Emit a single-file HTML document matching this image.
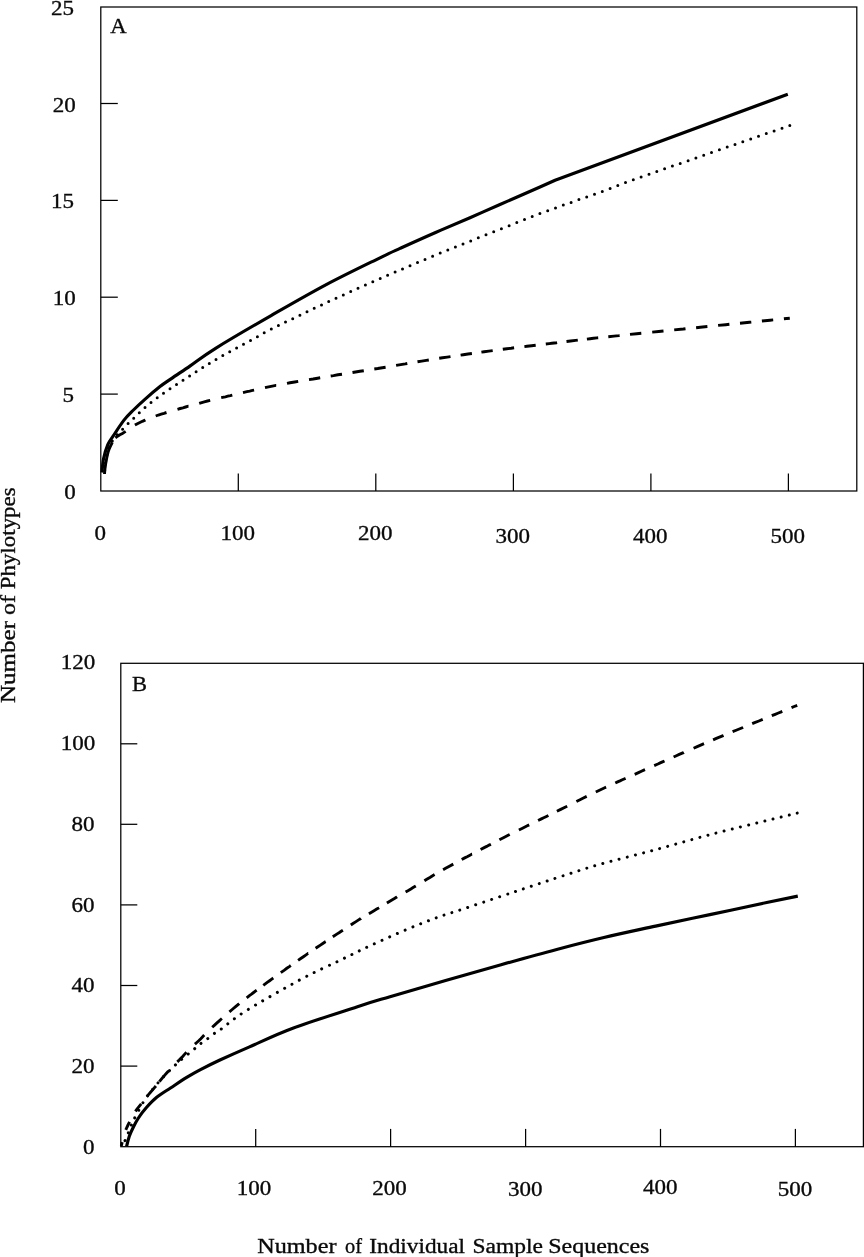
<!DOCTYPE html>
<html lang="en"><head><meta charset="utf-8"><title>Rarefaction curves</title>
<style>
html,body{margin:0;padding:0;background:#fff;}
body{width:864px;height:1257px;overflow:hidden;}
svg{display:block;}
text{font-family:"Liberation Serif","DejaVu Serif",serif;font-size:21.6px;fill:#0a0a0a;stroke:#0a0a0a;stroke-width:0.35px;}
.ax{stroke:#000;stroke-width:1.25;fill:none;}
.s{stroke:#000;stroke-width:3.15;fill:none;stroke-linejoin:round;}
.d{stroke:#000;stroke-width:3.1;fill:none;stroke-dasharray:11.3 10.5;}
.dd{stroke:#000;stroke-width:2.9;fill:none;}
.pp{stroke:#000;stroke-width:3.0;fill:none;stroke-linecap:round;}
.p{stroke:#000;stroke-width:3.0;fill:none;stroke-dasharray:0.01 8.3;stroke-linecap:round;}
</style></head><body>
<svg width="864" height="1257" viewBox="0 0 864 1257">
<rect width="864" height="1257" fill="#fff"/>

<rect class="ax" x="100.8" y="7.0" width="756.0" height="484.0"/>
<line class="ax" x1="100.8" y1="394.1" x2="117.8" y2="394.1"/>
<line class="ax" x1="100.8" y1="297.2" x2="117.8" y2="297.2"/>
<line class="ax" x1="100.8" y1="200.4" x2="117.8" y2="200.4"/>
<line class="ax" x1="100.8" y1="103.5" x2="117.8" y2="103.5"/>
<line class="ax" x1="238.3" y1="491.0" x2="238.3" y2="473.5"/>
<line class="ax" x1="375.8" y1="491.0" x2="375.8" y2="473.5"/>
<line class="ax" x1="513.4" y1="491.0" x2="513.4" y2="473.5"/>
<line class="ax" x1="650.9" y1="491.0" x2="650.9" y2="473.5"/>
<line class="ax" x1="788.4" y1="491.0" x2="788.4" y2="473.5"/>
<text x="75.8" y="499.0" text-anchor="end" textLength="11.5" lengthAdjust="spacingAndGlyphs">0</text>
<text x="73.9" y="402.1" text-anchor="end" textLength="11.5" lengthAdjust="spacingAndGlyphs">5</text>
<text x="75.8" y="305.2" text-anchor="end" textLength="23.0" lengthAdjust="spacingAndGlyphs">10</text>
<text x="73.9" y="208.4" text-anchor="end" textLength="23.0" lengthAdjust="spacingAndGlyphs">15</text>
<text x="75.8" y="111.5" text-anchor="end" textLength="23.0" lengthAdjust="spacingAndGlyphs">20</text>
<text x="73.9" y="14.6" text-anchor="end" textLength="23.0" lengthAdjust="spacingAndGlyphs">25</text>
<text x="100.2" y="539.8" text-anchor="middle" textLength="11.5" lengthAdjust="spacingAndGlyphs">0</text>
<text x="237.7" y="539.8" text-anchor="middle" textLength="34.5" lengthAdjust="spacingAndGlyphs">100</text>
<text x="375.2" y="539.8" text-anchor="middle" textLength="34.5" lengthAdjust="spacingAndGlyphs">200</text>
<text x="512.8" y="542.6" text-anchor="middle" textLength="34.5" lengthAdjust="spacingAndGlyphs">300</text>
<text x="650.3" y="542.6" text-anchor="middle" textLength="34.5" lengthAdjust="spacingAndGlyphs">400</text>
<text x="787.8" y="542.6" text-anchor="middle" textLength="34.5" lengthAdjust="spacingAndGlyphs">500</text>
<text x="110.3" y="33.3" textLength="16.4" lengthAdjust="spacingAndGlyphs">A</text>
<path class="dd" d="M104.5 474.0 L104.7 471.4 L105.0 468.6 L105.4 465.9 L105.8 463.1 L106.3 460.4 L106.8 457.6 L107.4 454.9 L108.1 452.1 L108.9 449.7 L110.0 447.2 L111.2 444.6 L112.3 442.3 L112.4 442.2 M115.4 437.8 L117.6 436.2 L119.9 434.8 L122.4 433.5 L124.9 431.9 L125.7 431.4 M134.9 425.1 L137.4 423.7 L139.9 422.5 L142.4 421.3 L145.0 420.2 L145.4 420.0 M155.7 416.0 L158.4 415.0 L161.2 414.1 L164.0 413.3 L166.5 412.5 M177.5 409.3 L180.2 408.5 L182.9 407.8 L185.6 407.0 L188.3 406.2 L188.5 406.2 M199.2 403.4 L201.7 402.6 L204.3 401.8 L207.5 401.0 L210.2 400.4 M221.2 397.7 L225.4 396.8 L227.8 396.2 L230.4 395.6 L232.3 395.1 M243.0 392.6 L246.9 391.7 L249.7 391.1 L252.5 390.4 L254.1 390.1 M265.0 387.7 L268.6 386.9 L271.1 386.4 L275.9 385.4 L276.2 385.4 M287.0 383.4 L290.0 382.8 L294.7 382.0 L298.2 381.4 M309.0 379.6 L313.1 379.0 L317.6 378.2 L320.2 377.8 M330.7 376.0 L333.5 375.6 L337.9 374.8 L342.0 374.2 M352.5 372.5 L355.5 372.0 L359.9 371.3 L363.8 370.7 M374.3 369.0 L377.7 368.5 L382.3 367.7 L385.6 367.2 M396.1 365.4 L400.7 364.6 L405.3 363.9 L407.3 363.5 M417.5 361.8 L421.7 361.1 L426.3 360.4 L428.8 360.0 M439.2 358.3 L442.5 357.8 L447.2 357.1 L450.5 356.6 M460.6 355.1 L463.3 354.7 L468.0 354.0 L471.9 353.5 M481.4 352.1 L484.2 351.7 L488.8 351.1 L492.7 350.6 M502.8 349.3 L506.8 348.7 L511.2 348.2 L514.1 347.8 M524.4 346.6 L526.9 346.3 L531.6 345.7 L535.7 345.2 M545.8 344.0 L549.3 343.6 L551.8 343.3 L556.6 342.7 L557.1 342.6 M566.5 341.5 L570.6 341.0 L575.6 340.4 L577.8 340.1 M586.9 339.1 L590.1 338.7 L593.5 338.3 L597.1 337.9 L598.2 337.8 M608.3 336.7 L614.0 336.1 L618.9 335.6 L619.6 335.5 M630.0 334.4 L636.7 333.7 L641.3 333.3 M652.2 332.1 L658.7 331.5 L663.5 331.0 M674.2 329.9 L683.3 329.0 L685.5 328.7 M696.1 327.7 L700.3 327.2 L707.4 326.5 M718.1 325.4 L725.7 324.7 L729.4 324.3 M740.0 323.2 L749.5 322.3 L751.3 322.1 M761.9 321.0 L770.1 320.2 L773.2 319.9 M783.9 318.8 L789.8 318.2"/>
<path class="pp" d="M789.8 125.5h.01M782.0 128.2h.01M774.1 130.9h.01M766.3 133.6h.01M758.5 136.3h.01M750.7 139.0h.01M742.8 141.7h.01M735.0 144.4h.01M727.2 147.1h.01M719.4 149.8h.01M711.5 152.6h.01M703.7 155.3h.01M695.9 158.0h.01M688.1 160.7h.01M680.2 163.4h.01M672.4 166.1h.01M664.6 168.8h.01M656.8 171.5h.01M649.0 174.3h.01M641.1 177.0h.01M633.3 179.8h.01M625.5 182.5h.01M617.8 185.4h.01M610.1 188.5h.01M602.3 191.4h.01M594.5 194.2h.01M586.7 196.9h.01M578.9 199.6h.01M571.1 202.4h.01M563.3 205.1h.01M555.5 207.9h.01M547.7 210.7h.01M539.9 213.6h.01M532.2 216.6h.01M524.5 219.6h.01M516.8 222.6h.01M509.1 225.7h.01M501.4 228.7h.01M493.7 231.8h.01M486.0 234.8h.01M478.3 237.8h.01M470.7 240.9h.01M463.0 243.9h.01M455.4 247.0h.01M447.8 250.0h.01M440.2 253.1h.01M432.6 256.2h.01M425.0 259.4h.01M417.5 262.5h.01M410.0 265.7h.01M402.5 268.9h.01M395.1 272.1h.01M387.6 275.3h.01M380.2 278.5h.01M372.8 281.8h.01M365.4 285.0h.01M358.0 288.3h.01M350.7 291.6h.01M343.3 294.9h.01M336.0 298.2h.01M328.7 301.6h.01M321.5 304.9h.01M314.2 308.3h.01M307.0 311.8h.01M299.9 315.2h.01M292.7 318.7h.01M285.5 322.1h.01M278.4 325.6h.01M271.3 329.1h.01M264.2 332.7h.01M257.4 336.7h.01M250.5 340.5h.01M243.5 344.2h.01M236.6 347.9h.01M229.7 351.7h.01M222.8 355.5h.01M216.0 359.4h.01M209.3 363.4h.01M202.7 367.5h.01M196.1 371.7h.01M189.6 375.9h.01M183.0 380.2h.01M176.5 384.4h.01M170.0 388.8h.01M163.5 393.2h.01M157.2 397.7h.01M151.0 402.4h.01M145.0 407.4h.01M139.3 412.7h.01M133.7 418.2h.01M128.1 423.6h.01M122.6 429.2h.01M117.3 434.8h.01M112.3 440.9h.01M108.8 447.8h.01M106.8 455.3h.01M105.5 463.0h.01M104.7 470.8h.01"/>
<path class="s" d="M101.9 472.5 C102.2 470.2 102.6 463.2 103.6 458.6 C104.6 454.0 106.2 448.5 107.8 444.7 C109.4 440.9 110.7 439.8 113.4 435.7 C116.1 431.6 120.5 424.7 123.8 420.4 C127.1 416.1 130.0 413.5 133.5 410.0 C137.0 406.5 140.2 403.5 144.6 399.6 C149.0 395.7 155.6 390.1 160.0 386.6 C164.4 383.2 166.0 382.3 171.0 378.9 C176.0 375.4 182.8 371.0 190.2 365.9 C197.6 360.8 202.1 356.7 215.6 348.3 C229.1 339.9 252.6 326.2 271.1 315.6 C289.6 305.0 308.6 294.0 326.7 284.4 C344.8 274.8 367.8 263.8 380.0 257.8 C392.2 251.8 390.7 252.6 400.0 248.4 C409.3 244.2 423.9 237.6 435.6 232.5 C447.3 227.4 459.3 222.4 470.0 217.7 C480.7 213.0 488.3 209.6 500.0 204.5 C511.7 199.4 530.8 191.1 540.0 187.0 C549.2 182.9 552.6 181.3 555.1 180.2 L787.8 94.2"/>
<rect class="ax" x="120.8" y="663.3" width="742.6" height="483.4"/>
<line class="ax" x1="120.8" y1="1066.1" x2="137.3" y2="1066.1"/>
<line class="ax" x1="120.8" y1="985.5" x2="137.3" y2="985.5"/>
<line class="ax" x1="120.8" y1="904.9" x2="137.3" y2="904.9"/>
<line class="ax" x1="120.8" y1="824.3" x2="137.3" y2="824.3"/>
<line class="ax" x1="120.8" y1="743.8" x2="137.3" y2="743.8"/>
<line class="ax" x1="255.7" y1="1146.7" x2="255.7" y2="1128.9"/>
<line class="ax" x1="390.6" y1="1146.7" x2="390.6" y2="1128.9"/>
<line class="ax" x1="525.6" y1="1146.7" x2="525.6" y2="1128.9"/>
<line class="ax" x1="660.5" y1="1146.7" x2="660.5" y2="1128.9"/>
<line class="ax" x1="795.4" y1="1146.7" x2="795.4" y2="1128.9"/>
<text x="94.4" y="1153.6" text-anchor="end" textLength="11.5" lengthAdjust="spacingAndGlyphs">0</text>
<text x="94.4" y="1073.0" text-anchor="end" textLength="23.0" lengthAdjust="spacingAndGlyphs">20</text>
<text x="94.4" y="991.6" text-anchor="end" textLength="23.0" lengthAdjust="spacingAndGlyphs">40</text>
<text x="94.4" y="911.5" text-anchor="end" textLength="23.0" lengthAdjust="spacingAndGlyphs">60</text>
<text x="94.4" y="831.2" text-anchor="end" textLength="23.0" lengthAdjust="spacingAndGlyphs">80</text>
<text x="95.2" y="749.9" text-anchor="end" textLength="34.5" lengthAdjust="spacingAndGlyphs">100</text>
<text x="95.2" y="669.3" text-anchor="end" textLength="34.5" lengthAdjust="spacingAndGlyphs">120</text>
<text x="120.0" y="1195.3" text-anchor="middle" textLength="11.5" lengthAdjust="spacingAndGlyphs">0</text>
<text x="254.1" y="1195.3" text-anchor="middle" textLength="34.5" lengthAdjust="spacingAndGlyphs">100</text>
<text x="389.6" y="1195.3" text-anchor="middle" textLength="34.5" lengthAdjust="spacingAndGlyphs">200</text>
<text x="525.3" y="1195.7" text-anchor="middle" textLength="34.5" lengthAdjust="spacingAndGlyphs">300</text>
<text x="660.2" y="1194.0" text-anchor="middle" textLength="34.5" lengthAdjust="spacingAndGlyphs">400</text>
<text x="795.1" y="1196.2" text-anchor="middle" textLength="34.5" lengthAdjust="spacingAndGlyphs">500</text>
<text x="131.9" y="691.2" textLength="15" lengthAdjust="spacingAndGlyphs">B</text>
<path class="dd" d="M121.3 1146.0 L121.9 1143.4 L122.2 1142.1 M125.8 1129.9 L126.8 1127.5 L128.0 1125.0 L129.2 1122.6 L129.6 1121.8 M135.4 1111.4 L137.0 1109.1 L138.6 1107.1 L140.2 1105.1 L141.2 1103.9 M146.8 1096.6 L148.7 1094.4 L150.5 1092.3 L152.4 1090.1 L154.3 1087.9 L155.9 1086.0 M159.4 1081.7 L161.2 1079.4 L163.0 1077.2 L164.8 1075.1 L166.7 1073.0 L168.5 1071.0 M177.3 1061.9 L179.2 1060.1 L180.9 1058.3 L182.7 1056.4 L184.5 1054.4 L186.3 1052.4 L186.5 1052.2 M194.9 1044.2 L196.8 1042.5 L199.0 1040.5 L200.8 1038.7 L202.9 1036.5 L204.2 1035.1 M212.2 1027.3 L214.6 1025.1 L216.7 1023.2 L219.0 1021.1 L221.3 1019.0 L221.9 1018.5 M229.4 1011.9 L232.2 1009.5 L235.3 1006.9 L238.6 1004.2 L239.2 1003.6 M246.7 997.8 L249.4 995.6 L251.5 994.1 L253.6 992.5 L255.7 990.9 L256.7 990.2 M263.3 985.3 L267.2 982.4 L269.6 980.7 L272.1 978.9 L273.3 978.0 M280.8 972.6 L284.4 970.1 L286.8 968.3 L289.3 966.6 L290.8 965.5 M298.1 960.4 L301.1 958.3 L303.4 956.7 L305.7 955.1 L308.1 953.4 L308.2 953.4 M315.6 948.3 L317.9 946.8 L320.4 945.1 L322.8 943.5 L325.3 941.8 L325.7 941.6 M332.8 936.8 L337.2 933.9 L339.4 932.5 L341.6 931.0 L342.9 930.2 M350.8 925.0 L353.0 923.5 L356.0 921.6 L358.6 919.9 L360.8 918.5 L360.9 918.4 M368.9 913.7 L371.1 912.4 L374.0 910.7 L376.3 909.3 L378.6 908.0 L379.1 907.7 M386.9 903.0 L389.4 901.5 L391.9 900.0 L394.4 898.6 L396.8 897.1 L397.1 896.9 M405.6 892.0 L407.9 890.7 L410.9 888.9 L413.1 887.6 L415.3 886.3 L415.8 886.0 M424.4 880.7 L427.2 879.0 L429.9 877.4 L432.6 875.7 L434.6 874.6 M443.1 869.7 L445.6 868.3 L449.4 866.2 L453.3 864.1 M461.7 859.5 L464.7 857.9 L467.1 856.7 L469.5 855.4 L471.9 854.1 L472.0 854.1 M480.6 849.5 L484.2 847.6 L486.7 846.4 L489.1 845.1 L490.9 844.2 M499.4 839.8 L503.4 837.7 L505.8 836.5 L508.1 835.3 L509.7 834.5 M518.9 830.0 L522.5 828.2 L524.9 827.0 L527.3 825.8 L529.2 824.9 M538.1 820.5 L541.4 818.9 L543.7 817.8 L545.9 816.7 L548.4 815.5 M556.9 811.3 L560.7 809.4 L564.5 807.5 L567.2 806.2 M576.4 801.5 L580.0 799.7 L583.4 798.0 L586.7 796.4 M595.8 792.0 L600.0 790.0 L604.2 788.0 L606.1 787.2 M615.3 783.0 L617.6 781.9 L620.0 780.9 L622.3 779.8 L624.7 778.7 L625.6 778.3 M634.7 774.3 L639.0 772.4 L641.4 771.3 L643.8 770.2 L645.0 769.7 M654.2 765.6 L657.9 764.0 L660.2 762.9 L662.5 761.9 L664.5 761.0 M673.6 757.0 L676.4 755.7 L678.7 754.7 L681.0 753.7 L683.4 752.7 L683.9 752.4 M693.6 748.2 L697.2 746.6 L699.5 745.6 L701.8 744.6 L704.0 743.7 M713.1 739.8 L715.8 738.6 L718.2 737.6 L720.7 736.6 L723.1 735.6 L723.5 735.4 M732.6 731.7 L735.5 730.5 L738.0 729.5 L740.5 728.5 L742.9 727.5 L743.1 727.4 M752.2 723.7 L754.6 722.7 L758.9 721.0 L762.7 719.4 M771.8 715.7 L775.2 714.3 L778.4 713.0 L781.3 711.8 L782.3 711.4 M791.5 707.6 L794.2 706.5 L796.5 705.6 L797.2 705.3"/>
<path class="p" style="stroke-dasharray:0.01 8.35" d="M797.2 813.1 C792.1 814.4 781.1 817.1 766.7 820.6 C752.4 824.1 729.6 829.5 711.1 834.4 C692.6 839.2 674.1 844.7 655.6 849.7 C637.1 854.7 615.3 860.0 600.0 864.3 C584.7 868.6 575.0 872.0 563.7 875.6 C552.4 879.2 542.6 882.5 532.1 886.0 C521.6 889.5 512.2 892.6 500.5 896.5 C488.8 900.4 472.0 906.0 461.6 909.5 C451.2 913.0 446.9 914.0 438.0 917.2 C429.1 920.4 419.3 924.2 408.1 928.9 C396.9 933.6 381.9 940.3 370.8 945.4 C359.7 950.5 352.9 954.1 341.3 959.7 C329.7 965.3 317.1 970.6 301.1 979.2 C285.2 987.8 259.1 1002.6 245.6 1011.1 C232.1 1019.6 225.4 1026.1 219.9 1030.0 C214.4 1033.9 215.0 1032.8 212.6 1034.5 C210.2 1036.2 208.0 1038.6 205.7 1040.3 C203.4 1042.0 201.0 1043.2 198.8 1044.9 C196.6 1046.6 195.2 1048.4 192.4 1050.7 C189.6 1053.0 185.3 1056.2 182.0 1059.0 C178.7 1061.8 175.8 1064.5 172.7 1067.5 C169.6 1070.5 166.4 1073.5 163.2 1077.0 C160.0 1080.5 156.6 1084.5 153.5 1088.3 C150.4 1092.1 147.5 1095.6 144.6 1100.0 C141.7 1104.4 138.3 1111.3 136.3 1114.9 C134.3 1118.5 133.9 1119.4 132.8 1121.8 C131.7 1124.2 130.6 1126.8 129.5 1129.5 C128.4 1132.2 127.7 1135.3 126.4 1138.0 C125.2 1140.7 122.7 1144.2 122.0 1145.5"/>
<path class="s" d="M126.6 1146.3 C127.0 1144.6 128.3 1139.3 129.3 1136.3 C130.3 1133.3 131.3 1131.2 132.8 1128.2 C134.3 1125.2 135.9 1121.9 138.1 1118.5 C140.3 1115.1 143.1 1111.3 146.2 1107.8 C149.3 1104.3 152.6 1100.6 156.7 1097.3 C160.8 1094.0 165.5 1091.3 170.5 1088.0 C175.5 1084.7 181.8 1080.4 186.7 1077.4 C191.6 1074.4 194.6 1072.8 200.0 1069.9 C205.4 1067.1 211.2 1064.1 219.4 1060.3 C227.7 1056.5 237.3 1052.2 249.5 1046.9 C261.7 1041.6 274.9 1035.0 292.8 1028.3 C310.7 1021.6 340.5 1012.2 356.7 1006.9 C372.9 1001.6 375.2 1001.1 390.0 996.7 C404.8 992.3 427.1 985.9 445.6 980.6 C464.1 975.3 482.6 969.9 501.1 964.7 C519.6 959.5 539.6 953.9 556.7 949.4 C573.8 944.9 587.4 941.4 603.9 937.5 C620.4 933.6 637.7 930.0 655.6 926.1 C673.5 922.2 692.6 918.3 711.1 914.4 C729.6 910.5 752.2 905.5 766.7 902.5 C781.2 899.5 792.6 897.2 797.8 896.1"/>
<text x="257.20" y="1252.7" textLength="79.25" lengthAdjust="spacingAndGlyphs">Number</text>
<text x="345.00" y="1252.7" textLength="17.00" lengthAdjust="spacingAndGlyphs">of</text>
<text x="369.30" y="1252.7" textLength="95.70" lengthAdjust="spacingAndGlyphs">Individual</text>
<text x="472.55" y="1252.7" textLength="70.45" lengthAdjust="spacingAndGlyphs">Sample</text>
<text x="548.20" y="1252.7" textLength="101.25" lengthAdjust="spacingAndGlyphs">Sequences</text>
<text transform="translate(15.3 703.00) rotate(-90)" textLength="82.00" lengthAdjust="spacingAndGlyphs">Number</text>
<text transform="translate(15.3 615.10) rotate(-90)" textLength="20.05" lengthAdjust="spacingAndGlyphs">of</text>
<text transform="translate(15.3 589.30) rotate(-90)" textLength="102.00" lengthAdjust="spacingAndGlyphs">Phylotypes</text>
</svg></body></html>
